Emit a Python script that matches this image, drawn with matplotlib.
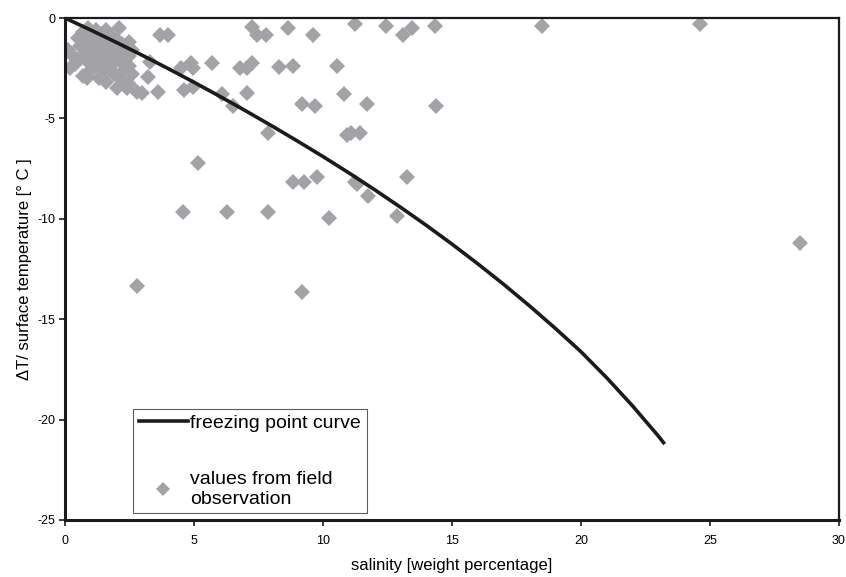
import numpy as np
import matplotlib
matplotlib.use("Agg")
import matplotlib.pyplot as plt

# -------
# Data
# -------

# freezing point curve (salinity %, temperature degC)
curve_sal = [0, 1, 2, 3, 4, 5, 6, 7, 8, 9, 10, 11, 12, 13, 14, 15, 16, 17, 18,
             19, 20, 21, 22, 23, 23.2]
curve_temp = [0, -0.60, -1.22, -1.86, -2.52, -3.20, -3.90, -4.62, -5.36, -6.12, -6.90,
              -7.71, -8.55, -9.42, -10.32, -11.26, -12.24, -13.26, -14.33, -15.45,
              -16.62, -17.92, -19.32, -20.82, -21.15]

# field observations, dense cluster near the origin
cluster_sal = [0.5, 0.6, 0.6, 0.7, 0.8, 0.8, 0.9, 0.9, 1.0, 1.0, 1.1, 1.1, 1.2, 1.2,
               1.3, 1.3, 1.4, 1.4, 1.5, 1.5, 1.6, 1.6, 1.7, 1.7, 1.8, 1.8, 1.9, 2.0,
               2.0, 2.1, 2.2, 2.3, 2.4, 2.5, 2.6, 2.2, 2.2, 0.4, 0.3, 1.0, 1.5,
               2.5, 2.5, 2.6, 2.5, 0.7, 1.9]
cluster_temp = [-1.0, -1.4, -2.0, -0.7, -1.2, -1.8, -0.5, -2.2, -0.9, -1.5, -1.1, -2.0, -0.6, -1.7,
                -1.3, -2.3, -0.8, -1.9, -1.1, -1.5, -0.6, -2.1, -1.3, -1.8, -0.9, -2.4, -1.5, -1.1,
                -2.0, -1.7, -1.3, -2.3, -1.5, -1.9, -1.6, -2.7, -3.1, -2.3, -1.9, -2.6, -2.6,
                -1.2, -2.4, -2.8, -3.3, -2.9, -2.8]

# field observations, the rest
field_sal = [0.1, 0.2, 2.1, 3.7, 4.0, 7.25, 7.45, 7.8, 8.65, 9.6, 11.25, 12.45, 13.1, 13.45,
             14.35, 18.5, 24.6, 3.3, 3.2, 4.5, 4.9, 4.95, 5.7, 6.8, 7.05, 7.25, 8.3, 8.85,
             10.55, 0.85, 1.3, 1.6, 2.0, 2.4, 2.8, 3.0, 3.6, 4.6, 4.95, 6.1, 7.05, 10.8,
             6.5, 9.2, 9.7, 11.7, 14.4, 7.85, 10.95, 11.1, 11.45, 5.15, 8.85, 9.25, 9.75,
             11.25, 11.3, 11.75, 13.25, 4.57, 6.27, 7.87, 10.25, 12.85, 2.8, 9.2, 28.5]
field_temp = [-1.6, -2.5, -0.5, -0.85, -0.85, -0.45, -0.85, -0.85, -0.5, -0.85, -0.3, -0.4, -0.85, -0.5,
              -0.4, -0.4, -0.3, -2.2, -2.95, -2.5, -2.25, -2.5, -2.25, -2.5, -2.5, -2.25, -2.45, -2.4,
              -2.4, -3.0, -3.0, -3.2, -3.5, -3.5, -3.7, -3.75, -3.7, -3.6, -3.45, -3.8, -3.75, -3.8,
              -4.4, -4.3, -4.4, -4.3, -4.4, -5.75, -5.85, -5.75, -5.75, -7.2, -8.15, -8.15, -7.9,
              -8.15, -8.25, -8.85, -7.9, -9.65, -9.65, -9.65, -9.95, -9.85, -13.35, -13.65, -11.2]

obs_sal = cluster_sal + field_sal
obs_temp = cluster_temp + field_temp

# -------
# Plot
# -------
plt.rcParams['axes.unicode_minus'] = False
plt.rcParams['font.family'] = ['Liberation Sans', 'DejaVu Sans']

fig = plt.figure(figsize=(8.46, 5.77), dpi=100)
ax = fig.add_axes([0.0768, 0.0988, 0.9149, 0.8700])

ax.plot(obs_sal, obs_temp, linestyle="none", marker="D", markersize=8.5,
        color="#a3a3a7", markeredgewidth=0, label="values from field\nobservation", zorder=2)
ax.plot(curve_sal, curve_temp, color="#1c1a1a", linewidth=2.6,
        label="freezing point curve", zorder=3)

ax.set_xlim(0, 30)
ax.set_ylim(-25, 0)
ax.set_xticks(np.arange(0, 31, 5))
ax.set_yticks(np.arange(-25, 1, 5))

tick_font = ['Liberation Sans Narrow', 'Liberation Sans', 'DejaVu Sans']
for lab in ax.get_xticklabels() + ax.get_yticklabels():
    lab.set_family(tick_font)
    lab.set_fontsize(9)
ax.tick_params(direction="out", length=4, width=1.2, color="#1c1a1a")
ax.tick_params(axis="x", pad=7)
ax.tick_params(axis="y", pad=3)

for side in ["left", "bottom"]:
    ax.spines[side].set_linewidth(2.2)
for side in ["top", "right"]:
    ax.spines[side].set_linewidth(1.6)
for sp in ax.spines.values():
    sp.set_color("#1c1a1a")

ax.set_xlabel("salinity [weight percentage]", fontsize=12, labelpad=8)
ax.set_ylabel("ΔT/ surface temperature [° C ]", fontsize=12, labelpad=4)

handles, labels = ax.get_legend_handles_labels()
leg = ax.legend(handles[::-1], labels[::-1], loc="lower left",
                bbox_to_anchor=(0.088, 0.013), fontsize=14, frameon=True,
                fancybox=False, edgecolor="#333333", labelspacing=2.0,
                handlelength=2.5, handletextpad=0.15, borderpad=0.3,
                borderaxespad=0)
leg.get_frame().set_linewidth(0.8)
leg.legend_handles[1].set_markersize(7)

fig.savefig("out.png", dpi=100)
